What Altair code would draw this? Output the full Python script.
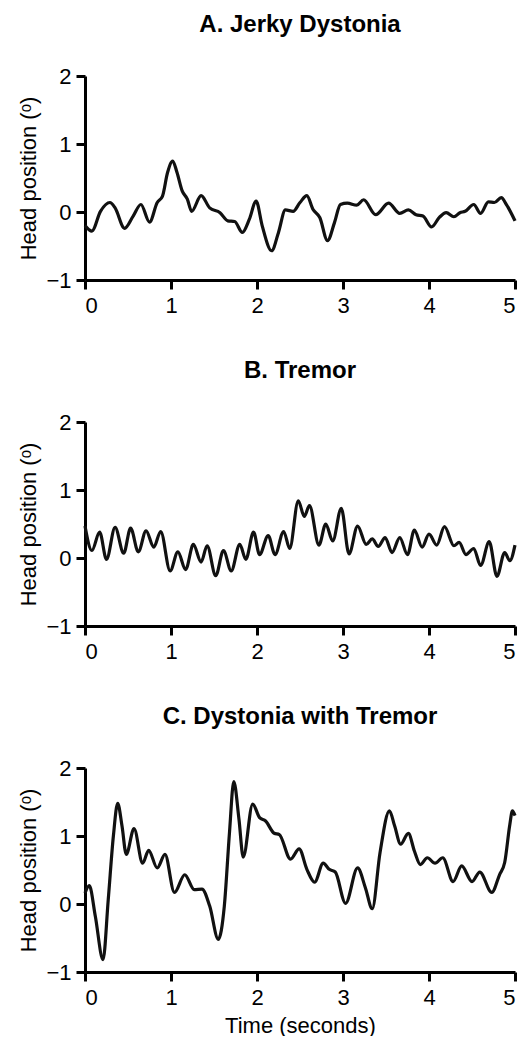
import altair as alt
import pandas as pd

FONT = "Liberation Sans"

# Panel A: Jerky Dystonia
tA = [0.0, 0.08, 0.18, 0.29, 0.35, 0.46, 0.56, 0.65, 0.75, 0.84, 0.90, 0.96, 1.02, 1.07, 1.13,
      1.19, 1.24, 1.35, 1.45, 1.57, 1.66, 1.74, 1.83, 1.91, 1.99, 2.06, 2.17, 2.25, 2.33, 2.42,
      2.50, 2.58, 2.65, 2.73, 2.82, 2.90, 2.97, 3.05, 3.16, 3.24, 3.38, 3.53, 3.66, 3.76, 3.85,
      3.93, 4.03, 4.12, 4.20, 4.29, 4.36, 4.42, 4.52, 4.60, 4.69, 4.76, 4.84, 4.90, 5.00]
vA = [-0.20, -0.28, 0.01, 0.14, 0.06, -0.24, -0.06, 0.11, -0.15, 0.14, 0.23, 0.58, 0.75, 0.58, 0.31,
      0.19, 0.01, 0.24, 0.06, -0.01, -0.13, -0.14, -0.30, -0.11, 0.16, -0.20, -0.57, -0.30, 0.03, 0.01,
      0.14, 0.24, 0.04, -0.08, -0.42, -0.16, 0.11, 0.13, 0.10, 0.18, -0.04, 0.13, -0.02, 0.03, -0.04,
      -0.06, -0.22, -0.08, -0.01, -0.07, -0.01, 0.01, 0.11, -0.02, 0.15, 0.14, 0.21, 0.11, -0.13]

# Panel B: Tremor
tB = [0.00, 0.08, 0.17, 0.25, 0.35, 0.45, 0.53, 0.62, 0.71, 0.80, 0.88, 0.99, 1.08, 1.17, 1.26,
      1.35, 1.42, 1.52, 1.61, 1.70, 1.80, 1.87, 1.96, 2.03, 2.13, 2.21, 2.31, 2.38, 2.48, 2.55,
      2.61, 2.72, 2.80, 2.88, 2.98, 3.07, 3.17, 3.27, 3.34, 3.41, 3.49, 3.57, 3.66, 3.75, 3.83,
      3.92, 4.00, 4.09, 4.18, 4.29, 4.35, 4.43, 4.52, 4.60, 4.70, 4.79, 4.88, 4.94, 5.00]
vB = [0.47, 0.11, 0.38, -0.02, 0.45, 0.07, 0.44, 0.09, 0.40, 0.16, 0.39, -0.19, 0.09, -0.17, 0.20,
      -0.06, 0.18, -0.26, 0.11, -0.19, 0.20, -0.02, 0.38, 0.05, 0.33, 0.05, 0.39, 0.14, 0.84, 0.61,
      0.77, 0.19, 0.50, 0.25, 0.73, 0.06, 0.47, 0.20, 0.28, 0.17, 0.30, 0.08, 0.30, 0.05, 0.41,
      0.16, 0.35, 0.19, 0.46, 0.18, 0.23, 0.05, 0.14, -0.11, 0.24, -0.27, 0.08, -0.04, 0.19]

# Panel C: Dystonia with Tremor
tC = [0.00, 0.05, 0.12, 0.21, 0.27, 0.33, 0.38, 0.43, 0.48, 0.57, 0.67, 0.74, 0.84, 0.93, 1.04,
      1.16, 1.27, 1.36, 1.45, 1.55, 1.62, 1.68, 1.73, 1.79, 1.84, 1.95, 2.03, 2.10, 2.20, 2.26,
      2.39, 2.49, 2.58, 2.67, 2.77, 2.84, 2.91, 3.03, 3.17, 3.26, 3.34, 3.43, 3.54, 3.60, 3.67,
      3.76, 3.83, 3.90, 3.98, 4.07, 4.16, 4.28, 4.38, 4.50, 4.59, 4.73, 4.82, 4.88, 4.94, 4.97, 5.00]
vC = [0.16, 0.27, -0.18, -0.82, 0.06, 1.00, 1.48, 1.15, 0.73, 1.11, 0.60, 0.79, 0.53, 0.73, 0.17,
      0.43, 0.21, 0.22, -0.03, -0.52, -0.03, 1.05, 1.80, 1.25, 0.69, 1.47, 1.27, 1.22, 1.04, 1.02,
      0.66, 0.81, 0.51, 0.32, 0.60, 0.51, 0.47, 0.01, 0.53, 0.24, -0.07, 0.75, 1.37, 1.15, 0.88,
      1.04, 0.78, 0.58, 0.68, 0.60, 0.68, 0.33, 0.56, 0.33, 0.47, 0.17, 0.43, 0.61, 1.17, 1.37, 1.30]

titles = ["A. Jerky Dystonia", "B. Tremor", "C. Dystonia with Tremor"]
x_ticks = [0, 1, 2, 3, 4, 5]
y_ticks = [-1, 0, 1, 2]
y_title = "Head position (ᵒ)"
x_title = "Time (seconds)"


def panel(t, v, title, show_x_title):
    df = pd.DataFrame({"t": t, "v": v})
    if show_x_title:
        xaxis = alt.Axis(values=x_ticks, format="d", labelPadding=6, titlePadding=7)
    else:
        xaxis = alt.Axis(values=x_ticks, format="d", labelPadding=6)
    return (
        alt.Chart(df, title=alt.TitleParams(title, fontSize=24, fontWeight="bold", font=FONT,
                                            anchor="middle", offset=28, color="black"))
        .mark_line(color="#111111", strokeWidth=3.2, interpolate="monotone")
        .encode(
            x=alt.X("t:Q", scale=alt.Scale(domain=[0, 5], nice=False), axis=xaxis,
                    title=x_title if show_x_title else None),
            y=alt.Y("v:Q", scale=alt.Scale(domain=[-1, 2], nice=False),
                    axis=alt.Axis(values=y_ticks, format="d", labelPadding=5, titlePadding=5),
                    title=y_title),
        )
        .properties(width=430, height=204)
    )


chart = (
    alt.vconcat(
        panel(tA, vA, titles[0], False),
        panel(tB, vB, titles[1], False),
        panel(tC, vC, titles[2], True),
        spacing=43,
    )
    .properties(padding={"left": 9, "top": 5, "right": 0, "bottom": 0})
    .configure_view(stroke=None)
    .configure_axis(
        grid=False,
        domainColor="black",
        domainWidth=3,
        tickColor="black",
        tickWidth=3,
        tickSize=9,
        labelFont=FONT,
        titleFont=FONT,
        labelFontSize=22,
        titleFontSize=22,
        titleFontWeight="normal",
        labelColor="black",
        titleColor="black",
    )
)

chart.save("out.html", embed_options={"renderer": "svg", "actions": False})
